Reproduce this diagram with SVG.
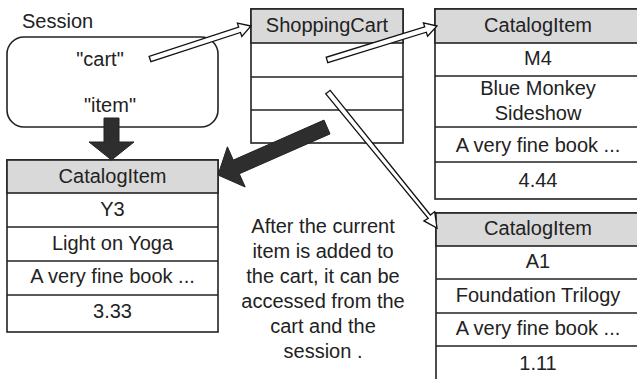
<svg xmlns="http://www.w3.org/2000/svg" width="637" height="379" viewBox="0 0 637 379">
<style>
text{font-family:"Liberation Sans",Arial,sans-serif;font-size:20px;fill:#222;text-anchor:middle}
.box{fill:#fff;stroke:#222;stroke-width:1.6}
.hdr{fill:#d9d9d9;stroke:#222;stroke-width:1.6}
.ln{stroke:#222;stroke-width:1.6}
.hollow{fill:#fff;stroke:#111;stroke-width:1.3;stroke-linejoin:miter}
.solid{fill:#2e2e2e;stroke:#222;stroke-width:1}
</style>
<rect width="637" height="379" fill="#fff"/>
<g id="session">
<text x="22" y="28" style="text-anchor:start">Session</text>
<rect class="box" x="7" y="37" width="211" height="90" rx="17"/>
<text x="100" y="66">"cart"</text>
<text x="110" y="112">"item"</text>
</g>
<g id="item-y3">
<rect class="box" x="7" y="160" width="211" height="172"/>
<rect class="hdr" x="7" y="160" width="211" height="33"/>
<line class="ln" x1="7" y1="227" x2="218" y2="227"/>
<line class="ln" x1="7" y1="261" x2="218" y2="261"/>
<line class="ln" x1="7" y1="295" x2="218" y2="295"/>
<text x="112.5" y="183">CatalogItem</text>
<text x="112.5" y="216">Y3</text>
<text x="112.5" y="250">Light on Yoga</text>
<text x="112.5" y="283">A very fine book ...</text>
<text x="112.5" y="318">3.33</text>
</g>
<g id="cart">
<rect class="box" x="251" y="9" width="152" height="134"/>
<rect class="hdr" x="251" y="9" width="152" height="34"/>
<line class="ln" x1="251" y1="77" x2="403" y2="77"/>
<line class="ln" x1="251" y1="110" x2="403" y2="110"/>
<text x="327" y="32">ShoppingCart</text>
</g>
<g id="item-m4">
<rect class="box" x="435" y="9" width="206" height="190"/>
<rect class="hdr" x="435" y="9" width="206" height="34"/>
<line class="ln" x1="435" y1="76" x2="641" y2="76"/>
<line class="ln" x1="435" y1="127" x2="641" y2="127"/>
<line class="ln" x1="435" y1="162" x2="641" y2="162"/>
<text x="538" y="32">CatalogItem</text>
<text x="538" y="65">M4</text>
<text x="538" y="95">Blue Monkey</text>
<text x="538" y="120">Sideshow</text>
<text x="538" y="152">A very fine book ...</text>
<text x="538" y="187">4.44</text>
</g>
<g id="item-a1">
<rect class="box" x="436" y="213" width="206" height="180"/>
<rect class="hdr" x="436" y="213" width="206" height="33"/>
<line class="ln" x1="436" y1="279" x2="642" y2="279"/>
<line class="ln" x1="436" y1="313" x2="642" y2="313"/>
<line class="ln" x1="436" y1="346" x2="642" y2="346"/>
<text x="538" y="235">CatalogItem</text>
<text x="538" y="268">A1</text>
<text x="538" y="302">Foundation Trilogy</text>
<text x="538" y="335">A very fine book ...</text>
<text x="538" y="370">1.11</text>
</g>
<g id="note">
<text x="323" y="233">After the current</text>
<text x="323" y="258">item is added to</text>
<text x="323" y="283">the cart, it can be</text>
<text x="323" y="308">accessed from the</text>
<text x="323" y="333">cart and the</text>
<text x="323" y="358">session .</text>
</g>
<g id="connectors">
<polygon class="hollow" points="150.9,61.7 149.1,56.3 238.7,27.1 237.4,23.1 251,26 241.8,36.4 240.5,32.5"/>
<polygon class="hollow" points="327.8,62.7 326.2,57.3 424.7,26.9 423.4,22.8 437,26 427.6,36.2 426.3,32.2"/>
<polygon class="hollow" points="325.8,93.8 330.2,90.3 430.4,215.0 434.7,211.6 437,228 423.9,220.9 428.2,218.3"/>
<polygon class="solid" points="330,133.9 324,120.1 233.3,160.1 227.4,146.8 218,175 245.2,187 239.3,173.8"/>
<polygon class="solid" points="104,118 119,118 119,142 134,142 111.5,160 89,142 104,142"/>
</g>
</svg>
